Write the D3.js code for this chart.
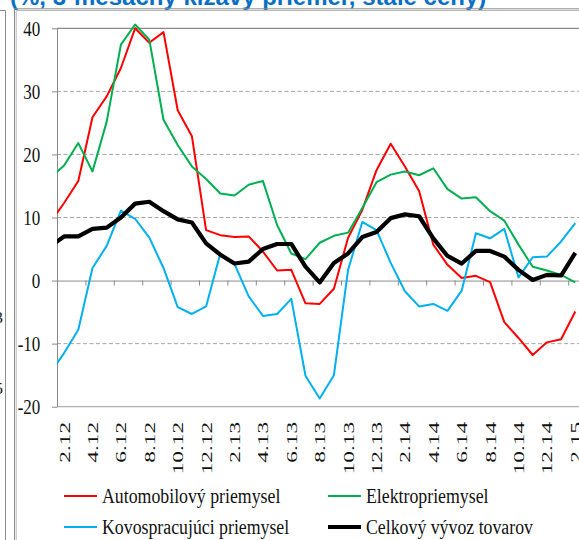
<!DOCTYPE html>
<html><head><meta charset="utf-8">
<script src="https://cdn.jsdelivr.net/npm/d3@7"></script>
<style>body{margin:0;background:#fff;} svg{display:block;}</style>
</head><body>
<svg id="c" width="579" height="540"></svg>
<script>
// ---- data ----
const months = ["1.12","2.12","3.12","4.12","5.12","6.12","7.12","8.12","9.12","10.12","11.12","12.12",
  "1.13","2.13","3.13","4.13","5.13","6.13","7.13","8.13","9.13","10.13","11.13","12.13",
  "1.14","2.14","3.14","4.14","5.14","6.14","7.14","8.14","9.14","10.14","11.14","12.14",
  "1.15","2.15"];
const automobilovy = [9.1,12.3,15.8,25.9,29.2,33.7,40.0,37.7,39.4,27.0,22.9,8.0,
  7.2,6.9,7.0,4.6,1.6,1.7,-3.6,-3.7,-1.3,6.8,11.2,17.5,
  21.7,18.1,14.2,5.7,2.5,0.4,0.75,-0.25,-6.6,-9.1,-11.8,-9.8,
  -9.3,-4.9];
const elektro = [16.2,18.25,21.8,17.3,25.2,37.4,40.6,38.2,25.5,21.5,18.1,16.1,
  13.8,13.5,15.2,15.8,8.8,4.3,3.4,6.0,7.1,7.6,11.5,15.6,
  16.8,17.3,16.7,17.8,14.5,13.0,13.2,11.0,9.5,5.7,2.2,1.6,
  0.9,-0.3];
const kovo = [-14.7,-11.5,-7.8,2.0,5.5,11.1,9.8,6.8,2.0,-4.2,-5.3,-4.1,
  4.3,2.65,-2.5,-5.6,-5.3,-2.9,-15.1,-18.7,-15.0,1.7,9.3,8.0,
  2.8,-1.7,-4.1,-3.7,-4.8,-1.6,7.5,6.7,8.2,0.5,3.7,3.8,
  6.2,9.1];
const celkovy = [5.4,7.0,7.0,8.2,8.4,10.0,12.2,12.5,11.0,9.7,9.2,5.9,
  4.1,2.7,3.0,5.0,5.8,5.8,2.2,-0.3,2.8,4.3,6.9,7.7,
  9.9,10.5,10.2,6.7,3.9,2.7,4.7,4.7,3.8,1.7,0.1,0.9,
  0.8,4.4];
const yTicks = [-20,-10,0,10,20,30,40];
const seriesNames = ["Automobilový priemysel","Elektropriemysel","Kovospracujúci priemysel","Celkový vývoz tovarov"];
const seriesValues = [automobilovy, elektro, kovo, celkovy];
const seriesColors = ["#ff0000","#00b050","#00b0f0","#000000"];
const seriesWidths = [2,2,2,4.2];
const titleText = "(%, 3-mesačný kĺzavý priemer, stále ceny)";

// ---- chart ----
const svg = d3.select("#c");
const x = d3.scaleLinear().domain([0.5, months.length - 0.5]).range([57, 57 + 37*14.2]);
const y = d3.scaleLinear().domain([-20, 40]).range([406.7, 28.3]);
const serif = "'Liberation Serif','Times New Roman',serif";

// title (cropped at top)
svg.append("text").attr("x", 10).attr("y", 5)
  .attr("font-family","'Liberation Sans',Arial,sans-serif").attr("font-weight","bold")
  .attr("font-size", 24).attr("fill","#0a6fc2").text(titleText);

// frames
svg.append("path").attr("d","M0,10.5H5.5V540").attr("fill","none").attr("stroke","#8c8c8c");
svg.append("path").attr("d","M14.5,540V8.8H579").attr("fill","none").attr("stroke","#8c8c8c");
svg.append("path").attr("d","M16.2,540V10.5H579").attr("fill","none").attr("stroke","#b8b8b8");
// remnants of neighbouring labels
svg.append("text").attr("x",3).attr("y",323).attr("text-anchor","end")
  .attr("font-family",serif).attr("font-size",17).attr("fill","#222").text("3");
svg.append("text").attr("x",3).attr("y",394).attr("text-anchor","end")
  .attr("font-family",serif).attr("font-size",17).attr("fill","#222").text("5");

// gridlines
const x0 = x.range()[0], x1 = x.range()[1];
svg.append("g").selectAll("line").data(yTicks.filter(v => v !== 0 && v !== -20 && v !== 40)).join("line")
  .attr("x1", x0).attr("x2", x1).attr("y1", d => y(d)).attr("y2", d => y(d))
  .attr("stroke","#a6a6a6").attr("stroke-width",1).attr("stroke-dasharray","4,2.5");
svg.append("g").selectAll("line").data([40,-20]).join("line")
  .attr("x1", x0).attr("x2", x1).attr("y1", d => y(d)).attr("y2", d => y(d))
  .attr("stroke", d => d===40 ? "#8a8a8a" : "#b0b0b0").attr("stroke-width",1.2);

// y axis
const yAxis = svg.append("g").attr("transform", `translate(${x0},0)`)
  .call(d3.axisLeft(y).tickValues(yTicks).tickSize(5).tickSizeOuter(0).tickPadding(11.7).tickFormat(d => String(d)));
yAxis.select(".domain").attr("stroke","#8a8a8a");
yAxis.selectAll(".tick line").attr("stroke","#8a8a8a");
yAxis.selectAll(".tick text").attr("font-family",serif).attr("font-size",17).attr("fill","#111")
  .attr("dy",null).attr("dominant-baseline","central")
  .attr("transform","scale(1,1.2)");

// x axis at zero
const boundaries = d3.range(0.5, months.length, 2);
const xAxis = svg.append("g").attr("transform", `translate(0,${y(0)})`)
  .call(d3.axisBottom(x).tickValues(boundaries).tickSize(5).tickSizeOuter(0).tickFormat(""));
xAxis.select(".domain").attr("stroke","#8a8a8a");
xAxis.selectAll(".tick line").attr("stroke","#8a8a8a");

// x labels
const labelIdx = d3.range(1, months.length, 2);
svg.append("g").selectAll("text").data(labelIdx).join("text")
  .attr("transform", i => `translate(${x(i)},422) rotate(-90) scale(1.5,1)`)
  .attr("text-anchor","end").attr("dominant-baseline","central")
  .attr("font-family",serif).attr("font-size",15.5).attr("fill","#111")
  .text(i => months[i]);

// lines
svg.append("clipPath").attr("id","clip").append("rect")
  .attr("x", x0).attr("y", 0).attr("width", 600).attr("height", 540);
const line = d3.line().x((d,i) => x(i)).y(d => y(d));
svg.append("g").attr("clip-path","url(#clip)").selectAll("path").data(seriesValues).join("path")
  .attr("d", d => line(d)).attr("fill","none")
  .attr("stroke", (d,i) => seriesColors[i]).attr("stroke-width", (d,i) => seriesWidths[i])
  .attr("stroke-linejoin","round");

// legend
const legPos = [[64,496],[328,496],[64,527],[328,527]];
const leg = svg.append("g").selectAll("g").data(seriesNames).join("g")
  .attr("transform", (d,i) => `translate(${legPos[i][0]},${legPos[i][1]})`);
leg.append("line").attr("x1",0).attr("x2",33).attr("y1",0).attr("y2",0)
  .attr("stroke",(d,i)=>seriesColors[i]).attr("stroke-width",(d,i)=>seriesWidths[i]);
leg.append("text").attr("transform","translate(38,7.4) scale(1,1.23)")
  .attr("font-family",serif).attr("font-size",17.8).attr("fill","#111").text(d => d);
</script>
</body></html>
